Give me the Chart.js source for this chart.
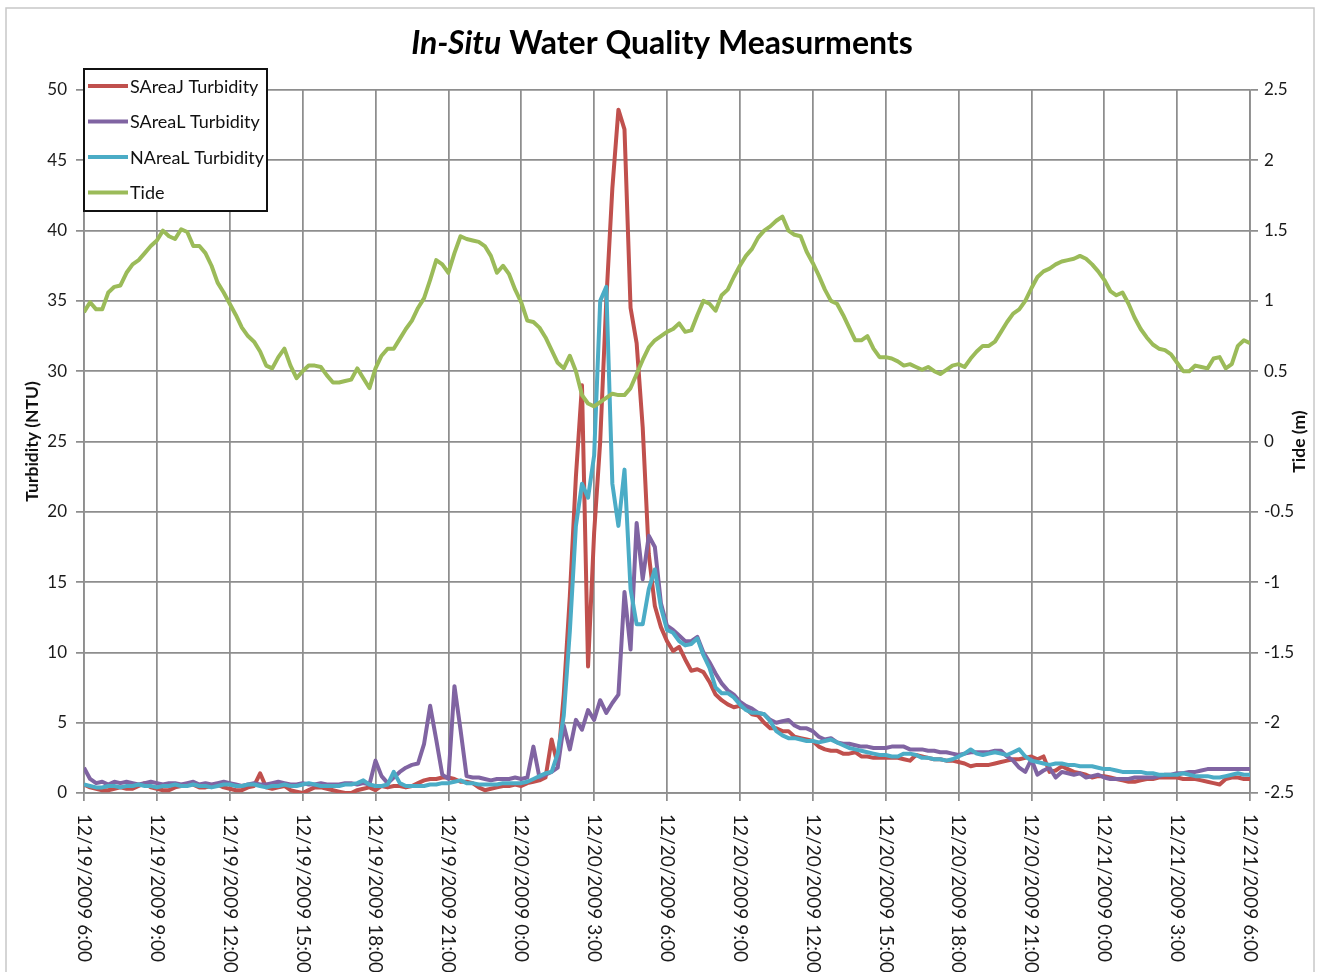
<!DOCTYPE html>
<html>
<head>
<meta charset="utf-8">
<title>In-Situ Water Quality Measurments</title>
<script src="https://cdn.jsdelivr.net/npm/chart.js@4.4.1/dist/chart.umd.min.js"></script>
<style>
  html, body { margin: 0; padding: 0; background: #fff; }
</style>
</head>
<body>
<canvas id="qualityChart" width="1320" height="972"></canvas>
<script>
/** readings every 15 minutes, hour 0 = 12/19/2009 6:00 */
const hours = Array.from({ length: 193 }, (_, i) => i * 0.25);

const tickHours = [0, 3, 6, 9, 12, 15, 18, 21, 24, 27, 30, 33, 36, 39, 42, 45, 48];
const tickLabels = [
  '12/19/2009 6:00', '12/19/2009 9:00', '12/19/2009 12:00', '12/19/2009 15:00',
  '12/19/2009 18:00', '12/19/2009 21:00', '12/20/2009 0:00', '12/20/2009 3:00',
  '12/20/2009 6:00', '12/20/2009 9:00', '12/20/2009 12:00', '12/20/2009 15:00',
  '12/20/2009 18:00', '12/20/2009 21:00', '12/21/2009 0:00', '12/21/2009 3:00',
  '12/21/2009 6:00'
];

const sAreaJ = [
  0.6, 0.4, 0.3, 0.2,  0.2, 0.3, 0.4, 0.3,  0.3, 0.5, 0.7, 0.4,
  0.3, 0.2, 0.2, 0.4,  0.5, 0.6, 0.6, 0.4,  0.4, 0.5, 0.6, 0.4,
  0.3, 0.2, 0.2, 0.4,  0.5, 1.4, 0.4, 0.3,  0.4, 0.5, 0.2, 0.1,
  0.0, 0.2, 0.4, 0.4,  0.3, 0.2, 0.1, 0.0,  0.0, 0.2, 0.3, 0.4,
  0.2, 0.5, 0.4, 0.5,  0.5, 0.4, 0.5, 0.7,  0.9, 1.0, 1.0, 1.1,
  1.1, 1.0, 0.8, 0.8,  0.7, 0.4, 0.2, 0.3,  0.4, 0.5, 0.5, 0.6,
  0.5, 0.7, 0.8, 0.9,  1.1, 3.8, 2.0, 7.0,  14.0, 22.5, 29.0, 9.0,
  18.5, 25.0, 35.0, 43.0,  48.6, 47.2, 34.5, 32.0,  26.0, 17.0, 13.3, 11.8,
  10.8, 10.1, 10.4, 9.5,  8.7, 8.8, 8.6, 7.9,  7.0, 6.6, 6.3, 6.1,
  6.2, 6.0, 5.6, 5.5,  5.0, 4.6, 4.6, 4.4,  4.4, 4.0, 3.9, 3.8,
  3.7, 3.3, 3.1, 3.0,  3.0, 2.8, 2.8, 2.9,  2.6, 2.6, 2.5, 2.5,
  2.5, 2.5, 2.5, 2.4,  2.3, 2.7, 2.6, 2.5,  2.4, 2.4, 2.3, 2.3,
  2.2, 2.1, 1.9, 2.0,  2.0, 2.0, 2.1, 2.2,  2.3, 2.4, 2.4, 2.5,
  2.6, 2.4, 2.6, 1.5,  1.6, 1.9, 1.7, 1.5,  1.4, 1.3, 1.1, 1.2,
  1.2, 1.1, 1.0, 0.9,  0.8, 0.8, 0.9, 1.0,  1.0, 1.1, 1.1, 1.1,
  1.1, 1.0, 1.0, 1.0,  0.9, 0.8, 0.7, 0.6,  1.0, 1.1, 1.1, 1.0,
  1.0
];

const sAreaL = [
  1.8, 1.0, 0.7, 0.8,  0.6, 0.8, 0.7, 0.8,  0.7, 0.6, 0.7, 0.8,
  0.7, 0.6, 0.7, 0.7,  0.6, 0.7, 0.8, 0.6,  0.7, 0.6, 0.7, 0.8,
  0.7, 0.6, 0.5, 0.6,  0.7, 0.6, 0.6, 0.7,  0.8, 0.7, 0.6, 0.6,
  0.7, 0.6, 0.6, 0.7,  0.6, 0.6, 0.6, 0.7,  0.7, 0.6, 0.7, 0.6,
  2.3, 1.2, 0.7, 1.1,  1.5, 1.8, 2.0, 2.1,  3.5, 6.2, 3.8, 1.3,
  1.0, 7.6, 4.5, 1.2,  1.1, 1.1, 1.0, 0.9,  1.0, 1.0, 1.0, 1.1,
  1.0, 1.1, 3.3, 1.1,  1.3, 1.5, 1.8, 4.8,  3.1, 5.2, 4.5, 5.9,
  5.2, 6.6, 5.7, 6.4,  7.0, 14.3, 10.2, 19.2,  15.2, 18.3, 17.5, 13.5,
  11.9, 11.6, 11.2, 10.8,  10.8, 11.1, 10.0, 9.3,  8.5, 7.8, 7.3, 7.0,
  6.5, 6.2, 6.0, 5.7,  5.6, 5.2, 5.0, 5.1,  5.2, 4.8, 4.6, 4.6,
  4.4, 4.0, 3.8, 3.9,  3.6, 3.5, 3.5, 3.4,  3.3, 3.3, 3.2, 3.2,
  3.2, 3.3, 3.3, 3.3,  3.1, 3.1, 3.1, 3.0,  3.0, 2.9, 2.9, 2.8,
  2.7, 2.8, 2.9, 2.9,  2.9, 2.9, 3.0, 3.0,  2.6, 2.3, 1.8, 1.5,
  2.4, 1.3, 1.6, 1.8,  1.1, 1.5, 1.4, 1.3,  1.4, 1.1, 1.2, 1.3,
  1.1, 1.0, 1.0, 1.0,  1.0, 1.1, 1.1, 1.1,  1.1, 1.2, 1.3, 1.3,
  1.4, 1.4, 1.5, 1.5,  1.6, 1.7, 1.7, 1.7,  1.7, 1.7, 1.7, 1.7,
  1.7
];

const nAreaL = [
  0.6, 0.5, 0.4, 0.4,  0.5, 0.5, 0.4, 0.5,  0.5, 0.6, 0.5, 0.5,
  0.4, 0.5, 0.5, 0.6,  0.5, 0.5, 0.6, 0.5,  0.5, 0.4, 0.5, 0.6,
  0.6, 0.5, 0.5, 0.6,  0.6, 0.5, 0.4, 0.5,  0.5, 0.6, 0.5, 0.5,
  0.6, 0.7, 0.6, 0.5,  0.5, 0.5, 0.5, 0.6,  0.6, 0.7, 0.9, 0.6,
  0.5, 0.5, 0.6, 1.5,  0.7, 0.5, 0.5, 0.5,  0.5, 0.6, 0.6, 0.7,
  0.7, 0.8, 0.9, 0.7,  0.7, 0.6, 0.6, 0.6,  0.6, 0.7, 0.7, 0.7,
  0.7, 0.8, 1.0, 1.2,  1.4, 1.5, 2.8, 5.5,  11.5, 19.0, 22.0, 21.0,
  24.0, 35.0, 36.0, 22.0,  19.0, 23.0, 14.5, 12.0,  12.0, 14.5, 15.9, 13.2,
  11.6, 11.4, 10.8, 10.5,  10.6, 11.0, 9.8, 8.9,  7.5, 7.1, 7.1, 6.8,
  6.3, 5.9, 5.7, 5.7,  5.6, 5.1, 4.4, 4.1,  3.9, 3.9, 3.8, 3.7,
  3.7, 3.6, 3.7, 3.8,  3.6, 3.4, 3.2, 3.1,  3.0, 2.9, 2.8, 2.7,
  2.7, 2.6, 2.6, 2.8,  2.8, 2.7, 2.5, 2.5,  2.4, 2.4, 2.3, 2.4,
  2.6, 2.8, 3.1, 2.8,  2.7, 2.8, 2.9, 2.8,  2.7, 2.9, 3.1, 2.6,
  2.3, 2.2, 2.1, 2.0,  2.1, 2.1, 2.0, 2.0,  1.9, 1.9, 1.9, 1.8,
  1.7, 1.7, 1.6, 1.5,  1.5, 1.5, 1.5, 1.4,  1.4, 1.3, 1.3, 1.3,
  1.3, 1.4, 1.3, 1.2,  1.2, 1.2, 1.1, 1.1,  1.2, 1.3, 1.4, 1.3,
  1.3
];

const tide = [
  0.92, 0.99, 0.94, 0.94,  1.06, 1.10, 1.11, 1.20,  1.26, 1.29, 1.34, 1.39,
  1.43, 1.50, 1.46, 1.44,  1.51, 1.49, 1.39, 1.39,  1.34, 1.25, 1.13, 1.06,
  0.98, 0.90, 0.81, 0.75,  0.71, 0.64, 0.54, 0.52,  0.60, 0.66, 0.54, 0.45,
  0.50, 0.54, 0.54, 0.53,  0.47, 0.42, 0.42, 0.43,  0.44, 0.52, 0.45, 0.38,
  0.52, 0.61, 0.66, 0.66,  0.73, 0.80, 0.86, 0.95,  1.02, 1.15, 1.29, 1.26,
  1.20, 1.34, 1.46, 1.44,  1.43, 1.42, 1.39, 1.32,  1.20, 1.25, 1.19, 1.08,
  0.99, 0.86, 0.85, 0.81,  0.74, 0.65, 0.56, 0.52,  0.61, 0.50, 0.33, 0.27,
  0.25, 0.28, 0.31, 0.34,  0.33, 0.33, 0.38, 0.48,  0.58, 0.67, 0.72, 0.75,
  0.78, 0.80, 0.84, 0.78,  0.79, 0.90, 1.00, 0.98,  0.93, 1.04, 1.08, 1.17,
  1.25, 1.32, 1.37, 1.45,  1.50, 1.53, 1.57, 1.60,  1.50, 1.47, 1.46, 1.35,
  1.27, 1.18, 1.08, 1.00,  0.98, 0.90, 0.81, 0.72,  0.72, 0.75, 0.66, 0.60,
  0.60, 0.59, 0.57, 0.54,  0.55, 0.53, 0.51, 0.53,  0.50, 0.48, 0.51, 0.54,
  0.55, 0.53, 0.59, 0.64,  0.68, 0.68, 0.71, 0.78,  0.85, 0.91, 0.94, 1.00,
  1.09, 1.17, 1.21, 1.23,  1.26, 1.28, 1.29, 1.30,  1.32, 1.30, 1.26, 1.21,
  1.15, 1.07, 1.04, 1.06,  0.98, 0.88, 0.80, 0.74,  0.69, 0.66, 0.65, 0.62,
  0.56, 0.50, 0.50, 0.54,  0.53, 0.52, 0.59, 0.60,  0.52, 0.55, 0.68, 0.72,
  0.70
];

const gridGrey = '#8e8e8e';
const textFont = 'Lato, "Open Sans", sans-serif';

/** white page, frame, title, rotated date labels, right title and boxed legend */
const decor = {
  id: 'decor',
  beforeDraw(chart) {
    const ctx = chart.ctx;
    ctx.save();
    ctx.fillStyle = '#fff';
    ctx.fillRect(0, 0, chart.width, chart.height);
    ctx.strokeStyle = '#c8c8c8';
    ctx.lineWidth = 1.5;
    ctx.strokeRect(6, 8, chart.width - 12, chart.height + 20);

    ctx.fillStyle = '#000';
    ctx.textBaseline = 'middle';
    ctx.textAlign = 'left';
    const a = 'In-Situ', b = ' Water Quality Measurments';
    ctx.font = 'italic bold 32px ' + textFont;
    const wa = ctx.measureText(a).width;
    ctx.font = 'bold 32px ' + textFont;
    const wb = ctx.measureText(b).width;
    const x0 = chart.width / 2 + 2 - (wa + wb) / 2;
    ctx.font = 'italic bold 32px ' + textFont;
    ctx.fillText(a, x0, 44);
    ctx.font = 'bold 32px ' + textFont;
    ctx.fillText(b, x0 + wa, 44);
    ctx.restore();
  },
  afterDraw(chart) {
    const ctx = chart.ctx;
    const xs = chart.scales.x;
    const area = chart.chartArea;
    ctx.save();

    // date labels, read top to bottom
    ctx.fillStyle = '#1a1a1a';
    ctx.font = '19px ' + textFont;
    ctx.textAlign = 'left';
    ctx.textBaseline = 'middle';
    tickHours.forEach((h, i) => {
      ctx.save();
      ctx.translate(xs.getPixelForValue(h), area.bottom + 21);
      ctx.rotate(Math.PI / 2);
      ctx.fillText(tickLabels[i], 0, 0);
      ctx.restore();
    });

    // right axis title
    ctx.save();
    ctx.fillStyle = '#111';
    ctx.font = 'bold 17.5px ' + textFont;
    ctx.textAlign = 'center';
    ctx.translate(1299, (area.top + area.bottom) / 2);
    ctx.rotate(-Math.PI / 2);
    ctx.fillText('Tide (m)', 0, 0);
    ctx.restore();

    // legend box
    const bx = area.left, by = 69, bw = 183, bh = 142;
    ctx.fillStyle = '#fff';
    ctx.fillRect(bx, by, bw, bh);
    ctx.strokeStyle = '#111';
    ctx.lineWidth = 2;
    ctx.strokeRect(bx, by, bw, bh);
    ctx.font = '18px ' + textFont;
    ctx.textAlign = 'left';
    chart.data.datasets.forEach((ds, i) => {
      const y = 86 + i * 35.5;
      ctx.strokeStyle = ds.borderColor;
      ctx.lineWidth = 4;
      ctx.beginPath();
      ctx.moveTo(bx + 4, y);
      ctx.lineTo(bx + 44, y);
      ctx.stroke();
      ctx.fillStyle = '#111';
      ctx.fillText(ds.label, bx + 46, y + 1);
    });
    ctx.restore();
  }
};

document.addEventListener("DOMContentLoaded", function () {
  const ctx = document.getElementById('qualityChart').getContext('2d');
  new Chart(ctx, {
    type: 'line',
    data: {
      labels: hours,
      datasets: [
        { label: 'SAreaJ Turbidity', data: sAreaJ, borderColor: '#C0504D', yAxisID: 'y', order: 3 },
        { label: 'SAreaL Turbidity', data: sAreaL, borderColor: '#8064A2', yAxisID: 'y', order: 2 },
        { label: 'NAreaL Turbidity', data: nAreaL, borderColor: '#4BACC6', yAxisID: 'y', order: 1 },
        { label: 'Tide', data: tide, borderColor: '#9BBB59', yAxisID: 'y2', order: 0 }
      ]
    },
    options: {
      responsive: false,
      animation: false,
      layout: { padding: { top: 90, left: 0, right: 0, bottom: 0 } },
      elements: {
        line: { borderWidth: 4, tension: 0, fill: false, borderJoinStyle: 'round' },
        point: { radius: 0, hoverRadius: 0 }
      },
      plugins: {
        legend: { display: false },
        title: { display: false },
        tooltip: { enabled: false }
      },
      scales: {
        x: {
          type: 'linear',
          min: 0,
          max: 48,
          ticks: { stepSize: 3, display: false },
          grid: { color: gridGrey, lineWidth: 1.75, tickLength: 8 },
          border: { color: gridGrey, width: 1.75 },
          afterFit: s => { s.height = 179; }
        },
        y: {
          position: 'left',
          min: 0,
          max: 50,
          ticks: { stepSize: 5, padding: 9, color: '#1a1a1a', font: { family: textFont, size: 17 } },
          grid: { color: gridGrey, lineWidth: 1.75, tickLength: 8 },
          border: { color: gridGrey, width: 1.75 },
          title: {
            display: true,
            text: 'Turbidity (NTU)',
            color: '#111',
            font: { family: textFont, size: 17.5, weight: 'bold' },
            padding: { top: 22, bottom: 0 }
          },
          afterFit: s => { s.width = 84; }
        },
        y2: {
          position: 'right',
          min: -2.5,
          max: 2.5,
          ticks: {
            stepSize: 0.5, padding: 6, color: '#1a1a1a', font: { family: textFont, size: 17 },
            callback: v => String(Math.round(v * 10) / 10)
          },
          grid: { drawOnChartArea: false, color: gridGrey, lineWidth: 1.75, tickLength: 8 },
          border: { color: gridGrey, width: 1.75 },
          afterFit: s => { s.width = 70; }
        }
      }
    },
    plugins: [decor]
  });
});
</script>
</body>
</html>
